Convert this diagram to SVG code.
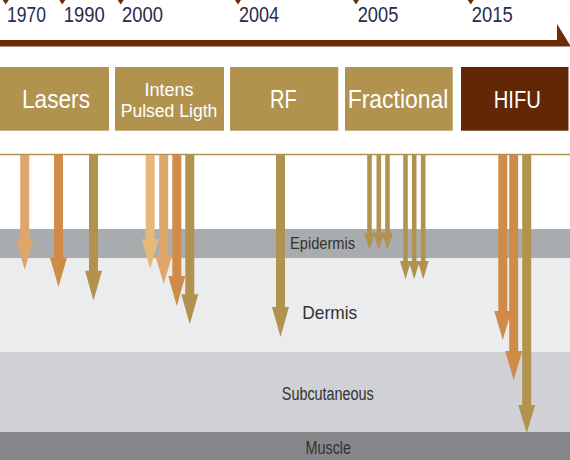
<svg xmlns="http://www.w3.org/2000/svg" width="570" height="460" viewBox="0 0 570 460">
<style>
.yr{font-family:"Liberation Sans",Arial,sans-serif;font-size:22px;fill:#2b2b4d}
.mk{fill:#6b2c0a}
.box{fill:#b1934f}
.bt{font-family:"Liberation Sans",Arial,sans-serif;fill:#ffffff;text-anchor:middle}
.lt{font-family:"Liberation Sans",Arial,sans-serif;fill:#333333}
.c1{fill:#dfa66b}
.c2{fill:#cf8b47}
.c3{fill:#b1934f}
.c4{fill:#e6b97b}
</style>
<rect x="0" y="0" width="570" height="460" fill="#ffffff"/>
<g id="layers">
<rect x="0" y="229" width="570" height="29" fill="#a9acaf"/>
<rect x="0" y="258" width="570" height="94" fill="#ebecee"/>
<rect x="0" y="352" width="570" height="80" fill="#d0d1d4"/>
<rect x="0" y="432" width="570" height="28" fill="#86878b"/>
<text class="lt" x="290" y="249" font-size="17" textLength="65" lengthAdjust="spacingAndGlyphs">Epidermis</text>
<text class="lt" x="302.3" y="319.3" font-size="19" textLength="55" lengthAdjust="spacingAndGlyphs">Dermis</text>
<text class="lt" x="281.8" y="400" font-size="18" textLength="92" lengthAdjust="spacingAndGlyphs">Subcutaneous</text>
<text class="lt" x="305.5" y="454" font-size="18" textLength="45.5" lengthAdjust="spacingAndGlyphs">Muscle</text>
</g>
<g id="timeline">
<rect x="0" y="40" width="557" height="6.5" fill="#6b2c0a"/>
<polygon points="557,24 571,46.5 557,46.5" fill="#6b2c0a"/>
<polygon class="mk" points="2.7,0 8.7,0 5.7,4.5"/>
<polygon class="mk" points="59.3,0 65.3,0 62.3,4.5"/>
<polygon class="mk" points="117.7,0 123.7,0 120.7,4.5"/>
<polygon class="mk" points="235,0 241,0 238,4.5"/>
<polygon class="mk" points="353,0 359,0 356,4.5"/>
<polygon class="mk" points="467.7,0 473.7,0 470.7,4.5"/>
<text class="yr" x="7" y="22.3" textLength="39" lengthAdjust="spacingAndGlyphs">1970</text>
<text class="yr" x="63.7" y="22.3" textLength="41" lengthAdjust="spacingAndGlyphs">1990</text>
<text class="yr" x="122" y="22.3" textLength="41" lengthAdjust="spacingAndGlyphs">2000</text>
<text class="yr" x="239" y="22.3" textLength="40" lengthAdjust="spacingAndGlyphs">2004</text>
<text class="yr" x="357.7" y="22.3" textLength="40.6" lengthAdjust="spacingAndGlyphs">2005</text>
<text class="yr" x="471.7" y="22.3" textLength="41" lengthAdjust="spacingAndGlyphs">2015</text>
</g>
<g id="lasers">
<rect class="box" x="0" y="67" width="109" height="63.7"/>
<text class="bt" x="56" y="107.7" font-size="26" textLength="68" lengthAdjust="spacingAndGlyphs">Lasers</text>
</g>
<g id="ipl">
<rect class="box" x="115" y="67" width="109" height="63.7"/>
<text class="bt" x="169" y="95.7" font-size="18" textLength="49" lengthAdjust="spacingAndGlyphs">Intens</text>
<text class="bt" x="169" y="116.7" font-size="18" textLength="96.6" lengthAdjust="spacingAndGlyphs">Pulsed Ligth</text>
</g>
<g id="rf">
<rect class="box" x="230" y="67" width="108.3" height="63.7"/>
<text class="bt" x="283.3" y="108" font-size="26" textLength="26.7" lengthAdjust="spacingAndGlyphs">RF</text>
</g>
<g id="fractional">
<rect class="box" x="345" y="67" width="107.7" height="63.7"/>
<text class="bt" x="398" y="108.3" font-size="26" textLength="100.6" lengthAdjust="spacingAndGlyphs">Fractional</text>
</g>
<g id="hifu">
<rect x="461" y="67" width="107.5" height="63.7" fill="#622806"/>
<text class="bt" x="517.3" y="108.3" font-size="23" textLength="47.3" lengthAdjust="spacingAndGlyphs">HIFU</text>
</g>
<line x1="0" y1="154.5" x2="570" y2="154.5" stroke="#b1934f" stroke-width="1.5"/>
<g id="connectors">
<polygon class="c1" points="20.2,155 29.2,155 29.2,240 33.2,240 24.7,270 16.2,240 20.2,240"/>
<polygon class="c2" points="54,155 63,155 63,257.7 67,257.7 58.5,287 50,257.7 54,257.7"/>
<polygon class="c3" points="89,155 98,155 98,270.7 102,270.7 93.5,300.7 85,270.7 89,270.7"/>
<polygon class="c4" points="145.7,155 154.7,155 154.7,239.3 158.7,239.3 150.2,269 141.7,239.3 145.7,239.3"/>
<polygon class="c1" points="159.2,155 168.2,155 168.2,255.3 172.2,255.3 163.7,284 155.2,255.3 159.2,255.3"/>
<polygon class="c2" points="172.3,155 181.3,155 181.3,276 185.3,276 176.8,306 168.3,276 172.3,276"/>
<polygon class="c3" points="185.3,155 194.3,155 194.3,294.3 198.3,294.3 189.8,324.3 181.3,294.3 185.3,294.3"/>
<polygon class="c3" points="276,155 285,155 285,307 289,307 280.5,337 272,307 276,307"/>
<polygon class="c3" points="367.2,155 371.8,155 371.8,232.7 375,232.7 369.5,250 364,232.7 367.2,232.7"/>
<polygon class="c3" points="376.5,155 381.1,155 381.1,232.7 384.3,232.7 378.8,250 373.3,232.7 376.5,232.7"/>
<polygon class="c3" points="385.2,155 389.8,155 389.8,232.7 393,232.7 387.5,250 382,232.7 385.2,232.7"/>
<polygon class="c3" points="403.2,155 407.8,155 407.8,261 411,261 405.5,279.3 400,261 403.2,261"/>
<polygon class="c3" points="411.9,155 416.5,155 416.5,261 419.7,261 414.2,279.3 408.7,261 411.9,261"/>
<polygon class="c3" points="420.9,155 425.5,155 425.5,261 428.7,261 423.2,279.3 417.7,261 420.9,261"/>
<polygon class="c2" points="498.3,155 507.3,155 507.3,311 511.3,311 502.8,340 494.3,311 498.3,311"/>
<polygon class="c2" points="509.2,155 518.2,155 518.2,351 522.2,351 513.7,380 505.2,351 509.2,351"/>
<polygon class="c3" points="522.2,155 531.2,155 531.2,405 535.2,405 526.7,433 518.2,405 522.2,405"/>
</g>
</svg>
